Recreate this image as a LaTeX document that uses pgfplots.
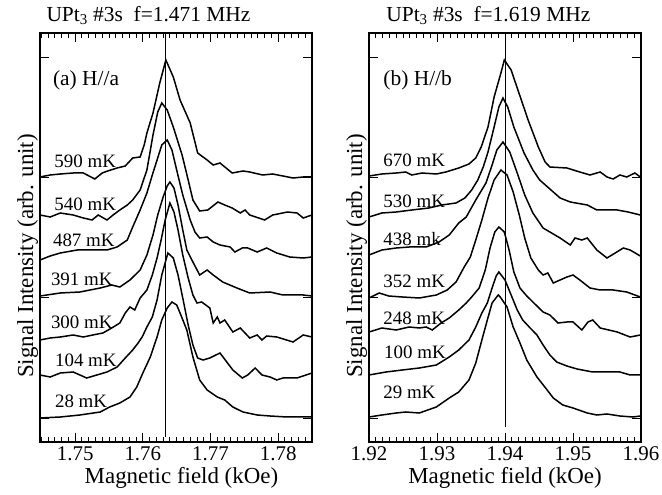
\documentclass[border=0pt]{standalone}
\usepackage{fontspec}
\setmainfont{Liberation Serif}
\usepackage{pgfplots}
\pgfplotsset{compat=1.18}
\pgfplotsset{
  myaxis/.style={
    at={(#1bp,53bp)}, anchor=south west,
    width=272bp, height=409bp, scale only axis,
    ymin=0, ymax=409,
    ytick={24,144.3,264.7,385}, yticklabels={},
    xtick distance=0.01,
    minor x tick num=9,
    major tick length=9bp, minor tick length=5bp,
    tick style={line width=0.9bp, black},
    axis line style={line width=1.2bp},
    every axis plot/.append style={line width=1.5bp},
    every axis plot post/.append style={black, solid, mark=none},
    tick label style={font=\fontsize{21}{21}\selectfont},
    xticklabel style={yshift=-1bp},
    label style={font=\fontsize{23}{23}\selectfont},
    title style={font=\fontsize{21.5}{21.5}\selectfont, anchor=base west, yshift=6bp},
    ylabel style={at={(rel axis cs:0,0.455)}, anchor=base, xshift=0bp, yshift=7bp},
    xlabel={Magnetic field (kOe)},
    ylabel={Signal Intensity (arb. unit)},
    /pgf/number format/fixed,
    /pgf/number format/fixed zerofill,
    /pgf/number format/precision=2,
    /pgf/number format/assume math mode=true,
  },
}
\tikzset{
  tlab/.style={anchor=base west, inner sep=0pt, font=\fontsize{19}{19}\selectfont},
  plab/.style={anchor=base west, inner sep=0pt, font=\fontsize{21.5}{21.5}\selectfont},
}
\begin{document}
\begin{tikzpicture}
\path[use as bounding box] (0,0) rectangle (662bp,495bp);
% ---------------- panel (a) ----------------
\begin{axis}[myaxis=40, xmin=1.7448, xmax=1.7850,
  title={UPt\textsubscript{3} \#3s\ \ f=1.471 MHz},
  title style={at={(0.011,1)}},
  xlabel style={at={(rel axis cs:0.52,0)}, anchor=base, yshift=-41bp}]
\addplot[line width=1bp] coordinates {(1.7634,5) (1.7634,409)};
% 590 mK
\addplot coordinates {(1.7448,265)(1.7463,267)(1.7478,268)(1.7497,269)(1.7512,269)(1.7529,263)(1.7540,269)(1.7548,271)(1.7562,274)(1.7574,276)(1.7585,284)(1.7596,285)(1.7602,297)(1.7606,309)(1.7615,329)(1.7625,359)(1.7634,382)(1.7645,365)(1.7655,342)(1.7670,319)(1.7681,289)(1.7695,282)(1.7704,277)(1.7714,279)(1.7732,269)(1.7748,271)(1.7758,270)(1.7777,267)(1.7792,268)(1.7822,264)(1.7837,265)(1.7850,265)};
% 540 mK
\addplot coordinates {(1.7448,227)(1.7463,225)(1.7478,229)(1.7497,227)(1.7512,224)(1.7525,222)(1.7534,227)(1.7547,222)(1.7556,227)(1.7566,232)(1.7577,237)(1.7585,242)(1.7596,252)(1.7606,272)(1.7615,307)(1.7622,330)(1.7628,339)(1.7636,332)(1.7645,315)(1.7658,287)(1.7667,262)(1.7674,242)(1.7684,231)(1.7696,232)(1.7711,240)(1.7721,237)(1.7732,234)(1.7744,229)(1.7751,232)(1.7758,227)(1.7780,222)(1.7792,227)(1.7814,230)(1.7828,229)(1.7837,224)(1.7850,227)};
% 487 mK
\addplot coordinates {(1.7448,182)(1.7463,186)(1.7478,189)(1.7503,192)(1.7522,192)(1.7547,192)(1.7562,195)(1.7577,202)(1.7585,215)(1.7596,232)(1.7606,249)(1.7614,267)(1.7621,282)(1.7628,297)(1.7636,302)(1.7643,292)(1.7650,272)(1.7659,247)(1.7670,222)(1.7677,210)(1.7684,204)(1.7695,205)(1.7704,200)(1.7714,197)(1.7729,195)(1.7736,190)(1.7747,194)(1.7755,194)(1.7769,190)(1.7783,194)(1.7798,189)(1.7817,185)(1.7837,184)(1.7850,185)};
% 391 mK
\addplot coordinates {(1.7448,146)(1.7478,149)(1.7507,150)(1.7537,154)(1.7554,157)(1.7566,155)(1.7581,162)(1.7596,172)(1.7606,187)(1.7615,207)(1.7622,227)(1.7630,245)(1.7636,256)(1.7640,260)(1.7646,254)(1.7652,237)(1.7659,212)(1.7665,192)(1.7674,180)(1.7684,167)(1.7695,172)(1.7704,167)(1.7718,160)(1.7739,154)(1.7758,149)(1.7788,150)(1.7807,147)(1.7837,147)(1.7850,146)};
% 300 mK
\addplot coordinates {(1.7448,102)(1.7463,104)(1.7478,105)(1.7497,107)(1.7512,105)(1.7526,107)(1.7541,109)(1.7554,114)(1.7566,119)(1.7574,129)(1.7581,135)(1.7588,132)(1.7596,144)(1.7606,152)(1.7614,167)(1.7621,184)(1.7627,202)(1.7633,222)(1.7640,239)(1.7646,230)(1.7652,212)(1.7659,187)(1.7667,164)(1.7674,147)(1.7680,139)(1.7687,140)(1.7699,134)(1.7704,119)(1.7710,125)(1.7714,119)(1.7721,122)(1.7733,110)(1.7744,114)(1.7758,104)(1.7769,107)(1.7776,102)(1.7783,106)(1.7798,105)(1.7822,100)(1.7837,107)(1.7850,105)};
% 104 mK
\addplot coordinates {(1.7448,67)(1.7463,65)(1.7478,69)(1.7497,70)(1.7517,64)(1.7532,67)(1.7547,70)(1.7562,75)(1.7574,84)(1.7585,92)(1.7593,99)(1.7599,105)(1.7606,115)(1.7614,125)(1.7621,142)(1.7628,167)(1.7637,189)(1.7645,184)(1.7652,167)(1.7659,144)(1.7667,117)(1.7674,97)(1.7681,84)(1.7689,82)(1.7699,84)(1.7714,89)(1.7733,72)(1.7747,64)(1.7755,67)(1.7766,74)(1.7776,67)(1.7788,65)(1.7798,62)(1.7807,64)(1.7828,64)(1.7850,69)};
% 28 mK
\addplot coordinates {(1.7448,24)(1.7478,25)(1.7507,27)(1.7537,30)(1.7551,35)(1.7566,39)(1.7581,45)(1.7591,55)(1.7600,69)(1.7611,85)(1.7621,105)(1.7628,122)(1.7636,134)(1.7643,140)(1.7650,137)(1.7655,129)(1.7665,112)(1.7674,85)(1.7684,62)(1.7695,52)(1.7710,45)(1.7721,42)(1.7733,35)(1.7748,30)(1.7769,27)(1.7788,26)(1.7813,25)(1.7850,25)};
\node[plab] at (axis cs:1.7467,356) {(a) H//a};
\node[tlab] at (axis cs:1.7469,274) {590 mK};
\node[tlab] at (axis cs:1.7469,231) {540 mK};
\node[tlab] at (axis cs:1.7467,195) {487 mK};
\node[tlab] at (axis cs:1.7464,156) {391 mK};
\node[tlab] at (axis cs:1.7464,113) {300 mK};
\node[tlab] at (axis cs:1.7470,75) {104 mK};
\node[tlab] at (axis cs:1.7470,34) {28 mK};
\end{axis}
% ---------------- panel (b) ----------------
\begin{axis}[myaxis=369, xmin=1.92, xmax=1.96,
  title={UPt\textsubscript{3} \#3s\ \ f=1.619 MHz},
  title style={at={(0.051,1)}},
  xlabel style={at={(rel axis cs:0.50,0)}, anchor=base, yshift=-41bp}]
\addplot[line width=1bp] coordinates {(1.9400,15) (1.9400,409)};
% 670 mK
\addplot coordinates {(1.9200,266)(1.9219,268)(1.9240,269)(1.9254,270)(1.9263,267)(1.9278,269)(1.9299,268)(1.9313,270)(1.9332,274)(1.9347,278)(1.9357,284)(1.9365,295)(1.9375,315)(1.9384,345)(1.9394,369)(1.9399,382)(1.9409,372)(1.9419,352)(1.9434,322)(1.9449,295)(1.9459,280)(1.9466,275)(1.9491,274)(1.9510,270)(1.9525,267)(1.9540,270)(1.9550,265)(1.9559,263)(1.9569,267)(1.9579,265)(1.9591,269)(1.9599,265)};
% 530 mK
\addplot coordinates {(1.9200,225)(1.9219,229)(1.9240,230)(1.9263,232)(1.9288,234)(1.9307,237)(1.9328,239)(1.9341,244)(1.9351,252)(1.9360,262)(1.9368,275)(1.9375,290)(1.9384,315)(1.9391,335)(1.9397,344)(1.9404,335)(1.9413,315)(1.9428,289)(1.9441,272)(1.9451,262)(1.9466,253)(1.9481,244)(1.9496,240)(1.9521,237)(1.9535,232)(1.9565,232)(1.9581,230)(1.9599,227)};
% 438 mK
\addplot coordinates {(1.9200,187)(1.9219,192)(1.9240,194)(1.9259,195)(1.9284,195)(1.9303,200)(1.9318,207)(1.9332,219)(1.9343,225)(1.9357,242)(1.9372,259)(1.9381,277)(1.9388,292)(1.9397,300)(1.9407,290)(1.9419,267)(1.9429,247)(1.9441,229)(1.9456,214)(1.9481,204)(1.9496,197)(1.9503,204)(1.9513,202)(1.9521,204)(1.9535,192)(1.9550,184)(1.9574,194)(1.9584,192)(1.9599,186)};
% 352 mK
\addplot coordinates {(1.9200,144)(1.9215,149)(1.9229,146)(1.9249,145)(1.9274,144)(1.9299,147)(1.9315,152)(1.9328,160)(1.9340,175)(1.9349,185)(1.9357,202)(1.9366,222)(1.9375,244)(1.9384,262)(1.9394,272)(1.9403,267)(1.9412,250)(1.9421,227)(1.9429,204)(1.9438,184)(1.9449,172)(1.9456,167)(1.9463,169)(1.9471,159)(1.9491,165)(1.9500,167)(1.9510,162)(1.9525,154)(1.9540,152)(1.9559,152)(1.9579,150)(1.9599,145)};
% 248 mK
\addplot coordinates {(1.9200,110)(1.9219,114)(1.9240,112)(1.9259,115)(1.9274,114)(1.9284,115)(1.9293,112)(1.9306,119)(1.9318,124)(1.9332,132)(1.9343,139)(1.9351,145)(1.9362,154)(1.9371,172)(1.9378,194)(1.9385,210)(1.9391,215)(1.9399,210)(1.9406,192)(1.9413,170)(1.9422,154)(1.9432,146)(1.9441,140)(1.9456,130)(1.9466,127)(1.9478,119)(1.9491,120)(1.9500,120)(1.9513,112)(1.9522,120)(1.9529,122)(1.9540,114)(1.9565,110)(1.9584,105)(1.9599,107)};
% 100 mK
\addplot coordinates {(1.9200,67)(1.9225,70)(1.9249,72)(1.9274,74)(1.9299,77)(1.9318,85)(1.9332,92)(1.9347,102)(1.9357,115)(1.9366,129)(1.9374,139)(1.9381,154)(1.9387,166)(1.9391,170)(1.9400,162)(1.9409,147)(1.9418,132)(1.9426,122)(1.9437,114)(1.9447,107)(1.9456,97)(1.9466,87)(1.9476,80)(1.9491,76)(1.9506,73)(1.9529,70)(1.9550,70)(1.9569,70)(1.9584,67)(1.9599,67)};
% 29 mK
\addplot coordinates {(1.9200,25)(1.9219,27)(1.9240,29)(1.9254,30)(1.9274,29)(1.9299,35)(1.9318,44)(1.9332,50)(1.9347,62)(1.9357,79)(1.9366,102)(1.9374,122)(1.9381,139)(1.9390,147)(1.9393,145)(1.9403,135)(1.9412,115)(1.9422,99)(1.9432,82)(1.9447,65)(1.9462,52)(1.9471,44)(1.9485,37)(1.9500,34)(1.9521,29)(1.9535,27)(1.9550,28)(1.9569,26)(1.9588,25)(1.9599,26)};
\node[plab] at (axis cs:1.9221,356) {(b) H//b};
\node[tlab] at (axis cs:1.9221,275) {670 mK};
\node[tlab] at (axis cs:1.9221,234) {530 mK};
\node[tlab] at (axis cs:1.9221,196) {438 mk};
\node[tlab] at (axis cs:1.9221,154) {352 mK};
\node[tlab] at (axis cs:1.9221,117) {248 mK};
\node[tlab] at (axis cs:1.9222,83) {100 mK};
\node[tlab] at (axis cs:1.9221,43) {29 mK};
\end{axis}
\end{tikzpicture}
\end{document}
